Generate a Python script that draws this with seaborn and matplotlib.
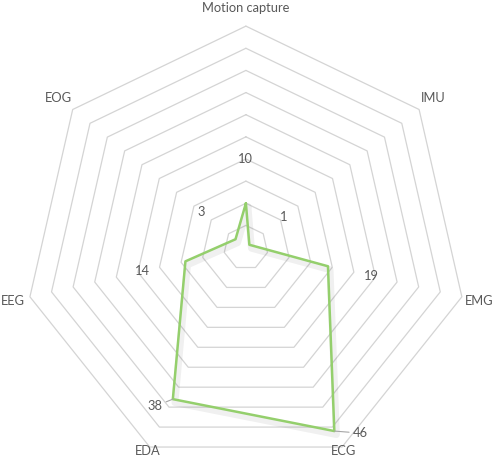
# --Libraries--
import numpy as np
import matplotlib
matplotlib.use("Agg")
import matplotlib.pyplot as plt
import matplotlib.patheffects as pe
import seaborn as sns

# --Data--
categories = ["Motion capture", "IMU", "EMG", "ECG", "EDA", "EEG", "EOG"]
values = [10, 1, 19, 46, 38, 14, 3]
ring_levels = [5, 10, 15, 20, 25, 30, 35, 40, 45, 50]

# --Style--
sns.set_style("white")
plt.rcParams["font.family"] = ["Lato", "DejaVu Sans"]
text_grey = "#595959"
ring_grey = "#D4D4D4"
line_green = "#94CF6C"
fsize = 9.3

# -Angles clockwise from the top
n = len(categories)
angles = np.pi / 2 - np.arange(n) * 2 * np.pi / n


def to_xy(r, ang):
    return r * np.cos(ang), r * np.sin(ang)


fig = plt.figure(figsize=(4.98, 4.57), dpi=100)
ax = fig.add_axes([0, 0, 1, 1])
ax.set_xlim(-55.5, 56.9)
ax.set_ylim(-47.3, 55.9)
ax.axis("off")

# -Heptagon rings
for lvl in ring_levels:
    rx, ry = to_xy(lvl, np.append(angles, angles[0]))
    ax.plot(rx, ry, color=ring_grey, lw=0.9, zorder=1)

# -Data polygon
px, py = to_xy(np.array(values + values[:1], dtype=float),
               np.append(angles, angles[0]))
sns.lineplot(x=px, y=py, sort=False, estimator=None, color=line_green,
             lw=1.8, ax=ax, zorder=3,
             path_effects=[pe.SimpleLineShadow(offset=(1.5, -2.5), alpha=0.06,
                                               rho=0.6, linewidth=5),
                           pe.Normal()])

# -Value labels
for i, (v, ang) in enumerate(zip(values, angles)):
    vx, vy = to_xy(v, ang)
    if categories[i] == "EDA":
        ax.annotate(str(v), (vx, vy), xytext=(-10, -7), textcoords="offset pixels",
                    ha="right", va="center", fontsize=fsize, color=text_grey,
                    arrowprops=dict(arrowstyle="-", color="#A6A6A6", lw=0.8,
                                    shrinkA=0, shrinkB=0))
    elif categories[i] == "ECG":
        ax.annotate(str(v), (vx, vy), xytext=(18, -2), textcoords="offset pixels",
                    ha="left", va="center", fontsize=fsize, color=text_grey,
                    arrowprops=dict(arrowstyle="-", color="#A6A6A6", lw=0.8,
                                    shrinkA=0, shrinkB=0))
    else:
        lx, ly = to_xy(v + 10, ang)
        ax.text(lx, ly, str(v), ha="center", va="center", fontsize=fsize,
                color=text_grey)

# -Category labels (bottom ones sit a bit closer)
for cat, ang in zip(categories, angles):
    r = 51.0 if np.sin(ang) < -0.8 else 54
    lx, ly = to_xy(r, ang)
    ax.text(lx, ly, cat, ha="center", va="center", fontsize=fsize,
            color=text_grey)

fig.savefig("out.png", dpi=100)
